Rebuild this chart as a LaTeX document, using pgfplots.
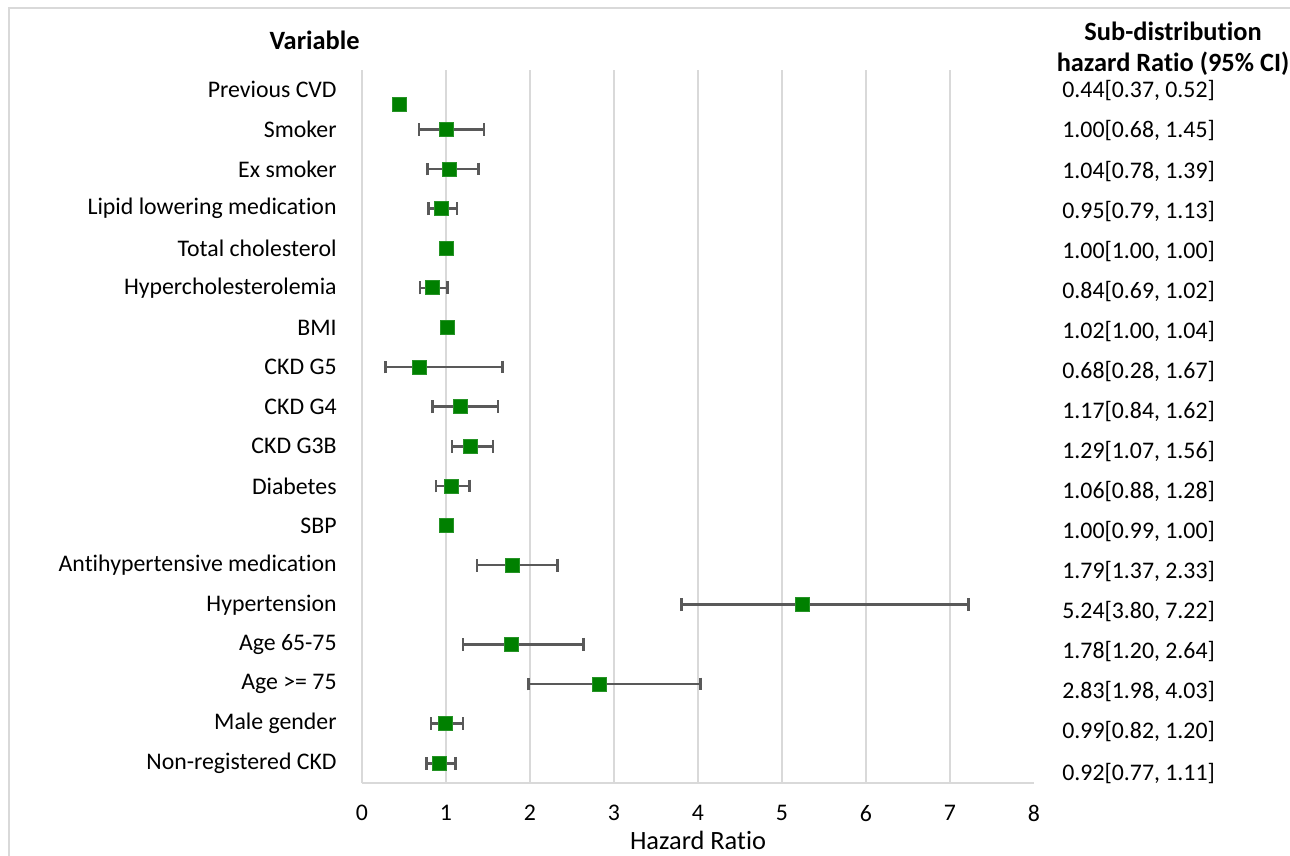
\documentclass[border=0pt]{standalone}
\usepackage{pgfplots}
\pgfplotsset{compat=1.18}
\usepackage{pgfplotstable}
\usepackage{fontspec}
\setmainfont{Carlito}[Ligatures=NoCommon]
\definecolor{gridgray}{HTML}{D9D9D9}
\definecolor{bargray}{HTML}{595959}
\definecolor{mkgreen}{HTML}{008000}

\pgfplotstableread{
y     hr   lo   hi
17.14 0.44 0.37 0.52
16.5  1.00 0.68 1.45
15.5  1.04 0.78 1.39
14.5  0.95 0.79 1.13
13.5  1.00 1.00 1.00
12.5  0.84 0.69 1.02
11.5  1.02 1.00 1.04
10.5  0.68 0.28 1.67
9.5   1.17 0.84 1.62
8.5   1.29 1.07 1.56
7.5   1.06 0.88 1.28
6.5   1.00 0.99 1.00
5.5   1.79 1.37 2.33
4.5   5.24 3.80 7.22
3.5   1.78 1.20 2.64
2.5   2.83 1.98 4.03
1.5   0.99 0.82 1.20
0.5   0.92 0.77 1.11
}\hrdata

\begin{document}
\begin{tikzpicture}
\useasboundingbox (0,0) rectangle (645pt,-428pt);
\draw[gridgray, line width=0.75pt] (4.5pt,-430pt) -- (4.5pt,-4pt) -- (647pt,-4pt);
\begin{axis}[
  at={(181pt,-391.5pt)}, anchor=south west,
  scale only axis, width=336pt, height=356.5pt,
  xmin=0, xmax=8, ymin=0, ymax=18,
  clip=false,
  axis x line*=bottom, axis y line*=left,
  axis line style={gridgray, line width=0.75pt, -},
  major tick length=0pt,
  xtick={0,...,8},
  extra x ticks={1,...,7}, extra x tick labels={},
  extra x tick style={grid=major},
  grid style={gridgray, line width=0.75pt},
  /pgf/number format/assume math mode=true,
  xticklabel style={font=\fontsize{11.9}{14}\selectfont, inner sep=0pt, yshift=-10.8pt},
  ytick={0.5,1.5,2.5,3.5,4.5,5.5,6.5,7.5,8.5,9.5,10.5,11.5,12.5,13.5,14.5,15.5,16.5,17.52},
  yticklabels={Non-registered CKD, Male gender, Age >= 75, Age 65-75, Hypertension,
    Antihypertensive medication, SBP, Diabetes, CKD G3B, CKD G4, CKD G5, BMI,
    Hypercholesterolemia, Total cholesterol, Lipid lowering medication, Ex smoker,
    Smoker, Previous CVD},
  yticklabel style={font=\fontsize{11.9}{14}\selectfont, inner sep=0pt, anchor=east, xshift=-12.5pt},
]
\addplot[only marks, mark=square*, mark size=3.5pt,
  mark options={fill=mkgreen, draw=mkgreen!85!white, line width=0.4pt},
  error bars/.cd, x dir=both, x explicit,
  error mark=|,
  error bar style={bargray, line width=1.3pt},
  error mark options={bargray, line width=1.3pt, mark size=3.2pt}]
  table[x=hr, y=y,
    x error plus expr=\thisrow{hi}-\thisrow{hr},
    x error minus expr=\thisrow{hr}-\thisrow{lo}] {\hrdata};

\begin{scope}[every node/.style={anchor=west, inner sep=0pt, font=\fontsize{11.9}{14}\selectfont}]
\node at (axis cs:8.333,17.47) {0.44[0.37, 0.52]};
\node at (axis cs:8.333,16.46) {1.00[0.68, 1.45]};
\node at (axis cs:8.333,15.43) {1.04[0.78, 1.39]};
\node at (axis cs:8.333,14.42) {0.95[0.79, 1.13]};
\node at (axis cs:8.333,13.41) {1.00[1.00, 1.00]};
\node at (axis cs:8.333,12.40) {0.84[0.69, 1.02]};
\node at (axis cs:8.333,11.39) {1.02[1.00, 1.04]};
\node at (axis cs:8.333,10.38) {0.68[0.28, 1.67]};
\node at (axis cs:8.333,9.37) {1.17[0.84, 1.62]};
\node at (axis cs:8.333,8.36) {1.29[1.07, 1.56]};
\node at (axis cs:8.333,7.35) {1.06[0.88, 1.28]};
\node at (axis cs:8.333,6.34) {1.00[0.99, 1.00]};
\node at (axis cs:8.333,5.33) {1.79[1.37, 2.33]};
\node at (axis cs:8.333,4.32) {5.24[3.80, 7.22]};
\node at (axis cs:8.333,3.31) {1.78[1.20, 2.64]};
\node at (axis cs:8.333,2.30) {2.83[1.98, 4.03]};
\node at (axis cs:8.333,1.29) {0.99[0.82, 1.20]};
\node at (axis cs:8.333,0.25) {0.92[0.77, 1.11]};
\end{scope}
\end{axis}
\node[anchor=east, inner sep=0pt, font=\fontsize{13.2}{16}\selectfont\bfseries] at (180pt,-20pt) {Variable};
\node[inner sep=0pt, font=\fontsize{13.2}{16}\selectfont\bfseries] at (586.5pt,-15.5pt) {Sub-distribution};
\node[inner sep=0pt, font=\fontsize{13.2}{16}\selectfont\bfseries] at (586.5pt,-32pt) {hazard Ratio (95\% CI)};
\node[inner sep=0pt, font=\fontsize{13.2}{16}\selectfont] at (349pt,-420pt) {Hazard Ratio};
\end{tikzpicture}
\end{document}
